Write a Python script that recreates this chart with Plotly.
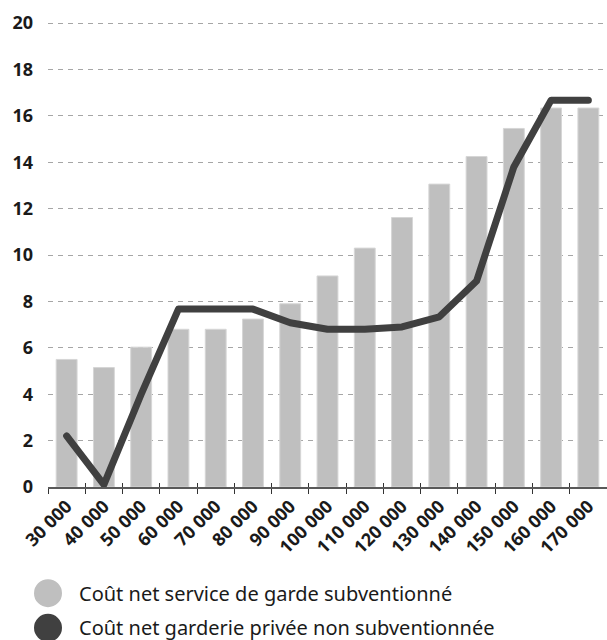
import plotly.graph_objects as go

categories = ["30 000", "40 000", "50 000", "60 000", "70 000", "80 000", "90 000",
              "100 000", "110 000", "120 000", "130 000", "140 000", "150 000",
              "160 000", "170 000"]
subventionne = [5.5, 5.15, 6.03, 6.8, 6.8, 7.24, 7.9, 9.1, 10.3, 11.62, 13.06,
                14.25, 15.46, 16.34, 16.34]
privee = [2.2, 0.1, 4.0, 7.67, 7.67, 7.67, 7.08, 6.8, 6.8, 6.9, 7.34, 8.88,
          13.8, 16.68, 16.68]
y_ticks = [0, 2, 4, 6, 8, 10, 12, 14, 16, 18, 20]
legend_labels = ["Coût net service de garde subventionné",
                 "Coût net garderie privée non subventionnée"]
bar_color = "#bfbfbf"
line_color = "#404040"

fig = go.Figure()
fig.add_trace(go.Bar(x=categories, y=subventionne, width=0.56,
                     marker=dict(color=bar_color, line=dict(color="#d6d6d6", width=1)),
                     showlegend=False))
fig.add_trace(go.Scatter(x=categories, y=privee, mode="lines",
                         line=dict(color=line_color, width=7),
                         showlegend=False))
fig.add_trace(go.Scatter(x=categories, y=privee, mode="lines", xaxis="x2",
                         line=dict(width=0), opacity=0, hoverinfo="skip",
                         showlegend=False))

axis_font = dict(family="Open Sans", size=18, color="#1a1a1a", weight="bold")

fig.update_layout(
    width=607, height=640,
    margin=dict(l=48, r=0, t=22, b=153),
    plot_bgcolor="white", paper_bgcolor="white",
    bargap=0.44,
    xaxis=dict(type="category", range=[-0.5, 14.5], tickson="boundaries",
               ticks="outside", ticklen=5, tickwidth=1.2, tickcolor="#333333",
               showline=True, linecolor="#595959", linewidth=1.5,
               showgrid=False, tickangle=-45, tickfont=axis_font),
    xaxis2=dict(type="category", overlaying="x", matches="x", anchor="y",
                tickson="boundaries", ticks="inside", ticklen=4, tickwidth=1.2,
                tickcolor="#333333", showticklabels=False, showgrid=False,
                showline=False),
    yaxis=dict(range=[0, 20.05], tickvals=y_ticks, showgrid=True,
               gridcolor="#a6a6a6", griddash="5px,5px", gridwidth=1,
               zeroline=False, showline=False, ticks="",
               ticklabelstandoff=14, tickfont=dict(family="Open Sans", size=18,
                                                   color="#1a1a1a", weight="bold")),
)

legend_colors = [bar_color, line_color]
legend_y = [-0.2284, -0.3028]
for lbl, col, yy in zip(legend_labels, legend_colors, legend_y):
    fig.add_shape(type="circle", xref="paper", yref="paper",
                  xsizemode="pixel", ysizemode="pixel",
                  xanchor=0, yanchor=yy, x0=-14, x1=14, y0=-14, y1=14,
                  fillcolor=col, line=dict(width=0))
    fig.add_annotation(x=0.0519, y=yy, xref="paper", yref="paper",
                       xanchor="left", yanchor="middle", showarrow=False,
                       text=lbl, font=dict(family="Noto Sans", size=20, color="#1a1a1a"))

post = """
document.body.style.margin='0';
function roundCaps(){
  document.querySelectorAll('.scatterlayer .js-line').forEach(function(p){
    p.style.strokeLinecap='round'; p.style.strokeLinejoin='round';
  });
}
roundCaps(); setTimeout(roundCaps, 50);
"""
fig.write_html("out.html", config={"displayModeBar": False}, post_script=post)
